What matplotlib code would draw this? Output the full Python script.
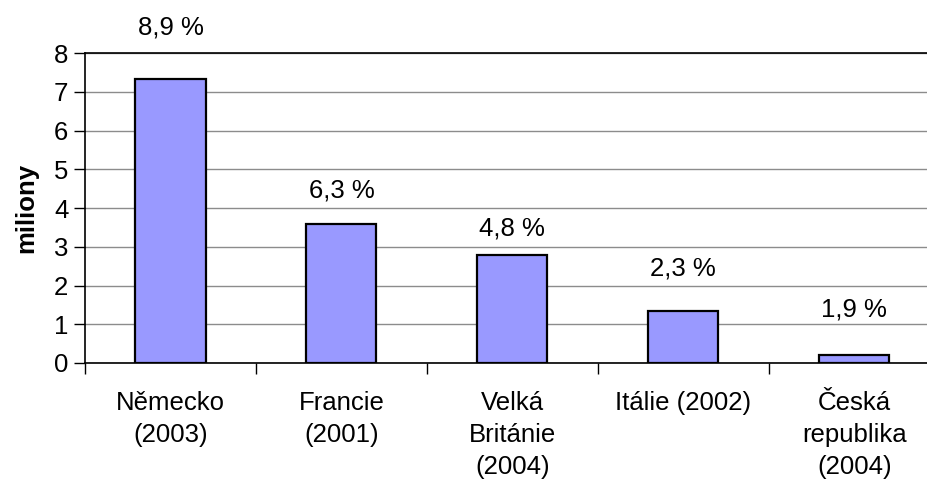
import matplotlib.pyplot as plt
import numpy as np

plt.rcParams['font.family'] = ['Liberation Sans', 'DejaVu Sans']

zeme = ['Německo\n(2003)', 'Francie\n(2001)', 'Velká\nBritánie\n(2004)',
        'Itálie (2002)', 'Česká\nrepublika\n(2004)']
miliony = [7.33, 3.59, 2.79, 1.34, 0.2]
podil = ['8,9 %', '6,3 %', '4,8 %', '2,3 %', '1,9 %']
podil_y = [8.67, 4.46, 3.48, 2.45, 1.37]

fs = 18.5

fig = plt.figure(figsize=(9.27, 4.82), dpi=100)
ax = fig.add_axes([0.0917, 0.2469, 0.922, 0.643])

x = np.arange(len(zeme))
ax.bar(x, miliony, width=0.41, color='#9999ff', edgecolor='black', linewidth=1.6, zorder=3)

for xi, t, yi in zip(x, podil, podil_y):
    ax.text(xi, yi, t, ha='center', va='center', fontsize=fs, clip_on=False)

ax.set_xlim(-0.5, len(zeme) - 0.5)
ax.set_ylim(0, 8)
ax.set_yticks(range(0, 9))
ax.yaxis.grid(True, color='#8c8c8c', linewidth=1.0, zorder=0)
ax.set_axisbelow(True)

ax.set_xticks(x)
ax.set_xticklabels(zeme, fontsize=fs, linespacing=1.42, va='top')
ax.tick_params(axis='x', length=0, pad=20)
ax.set_xticks(np.arange(-0.5, len(zeme), 1.0), minor=True)
ax.tick_params(axis='x', which='minor', length=8, width=1, color='black')
ax.tick_params(axis='y', length=8, width=1, labelsize=fs, pad=4)

ax.set_ylabel('miliony', fontsize=18.5, fontweight='bold', labelpad=11)

ax.spines['right'].set_visible(False)
for s in ('left', 'bottom', 'top'):
    ax.spines[s].set_linewidth(1.2)

fig.savefig('out.png', dpi=100)
